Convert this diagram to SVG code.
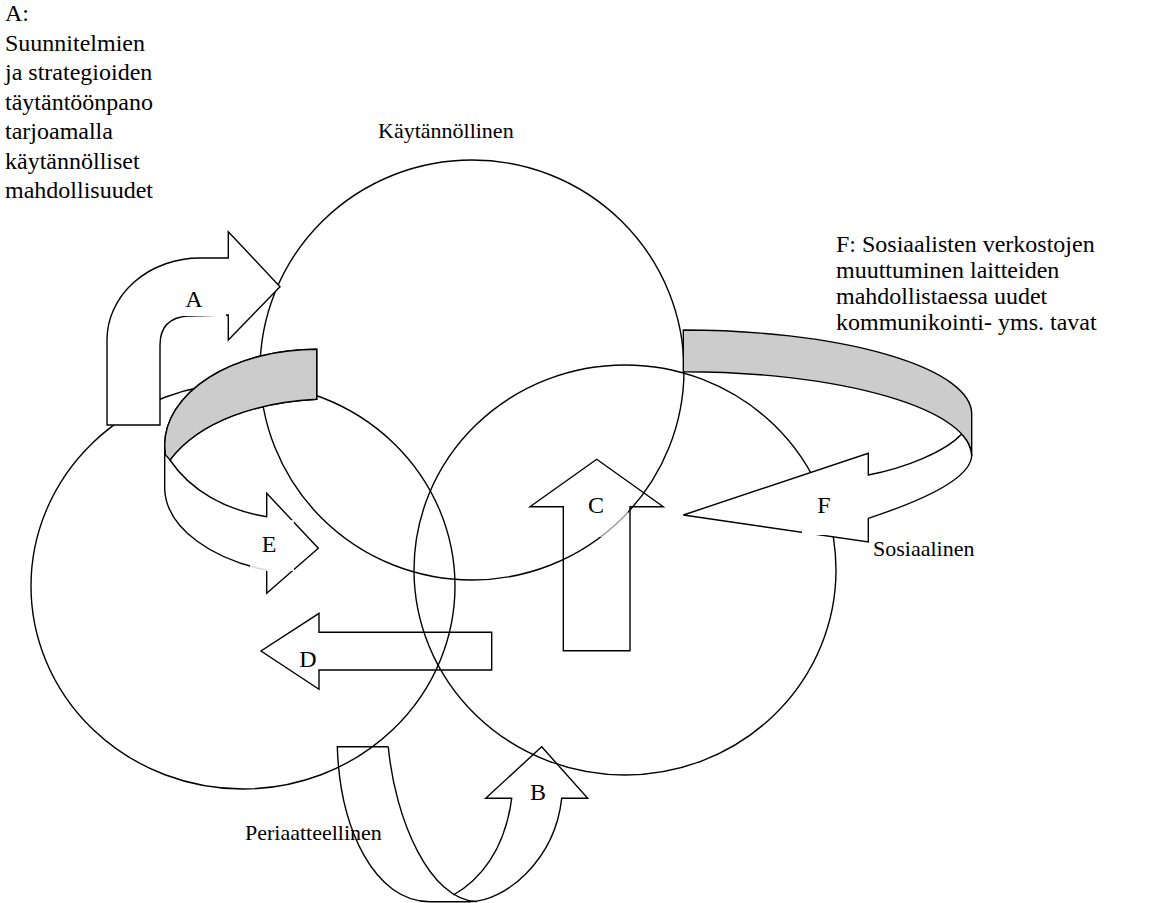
<svg xmlns="http://www.w3.org/2000/svg" width="1149" height="903" viewBox="0 0 1149 903">
<style>
.c{fill:none;stroke:#000;stroke-width:1.4}
.w{fill:#fff;stroke:#000;stroke-width:1.4;stroke-linejoin:miter}
.o{fill:none;stroke:#000;stroke-width:1.4}
.g{fill:#cccccc;stroke:#000;stroke-width:1.4}
.t{font-family:"Liberation Serif","Times New Roman",serif;font-size:22px;fill:#000}
.n{font-family:"Liberation Serif","Times New Roman",serif;font-size:24px;fill:#000}
.l{font-family:"Liberation Serif","Times New Roman",serif;font-size:24px;fill:#000}
.bx{fill:#fff;stroke:none}
</style>
<rect width="1149" height="903" fill="#fff"/>
<g id="node-kaytannollinen">
<ellipse class="c" cx="472" cy="370" rx="212" ry="210"/>
<text class="t" x="378" y="138">Käytännöllinen</text>
</g>
<g id="node-periaatteellinen">
<ellipse class="c" cx="243" cy="586" rx="212" ry="203"/>
<text class="t" x="245" y="840">Periaatteellinen</text>
</g>
<g id="node-sosiaalinen">
<ellipse class="c" cx="625" cy="570" rx="211" ry="205"/>
<text class="t" x="873" y="556">Sosiaalinen</text>
</g>
<g id="connectors">
<path id="arrow-A" class="w" d="M107,425 L107,340 A93,82 0 0 1 200,258 L228.3,258 L228.3,231.7 L280,286.7 L228.3,340 L228.3,315 L188,316 Q160,318 160,345 L160,425 Z"/>
<path id="arrow-E" class="w" d="M316.7,349.3 A152,96 0 0 0 164.7,445.3 L164.7,490 C167,530 215,560 266.7,570 L266.7,593.3 L318.3,548.3 L266.7,493.3 L266.7,516.7 C225,510 190,490 170,460 C200,420 260,402 316.7,399.3 Z"/>
<path id="band-E" class="g" d="M316.7,349.3 A152,96 0 0 0 164.7,445.3 L165.5,455 L170,460 C200,420 260,402 316.7,399.3 Z"/>
<path id="arrow-F" class="w" d="M971.7,456 C970,480 915,503 868.3,518.3 L868.3,542 L683.3,515 L868.3,453.3 L868.3,475 C905,468 945,452 961.7,434 A288.4,84.3 0 0 1 971.7,456 Z"/>
<path id="band-F" class="g" d="M683.3,330 A288.4,84 0 0 1 971.7,414 L971.7,456 A288.4,84.3 0 0 0 683.3,371.7 Z"/>
<path id="arrow-C" class="o" d="M563.3,650.7 L563.3,506.7 L530,506.7 L596.7,459.3 L663.3,506.7 L630,506.7 L630,650.7 Z"/>
<path id="arrow-D" class="o" d="M491.7,632.3 L319,632.3 L319,613.3 L261,651 L319,689.3 L319,670 L491.7,670 Z"/>
<path id="arrow-B" class="o" d="M388.3,746.7 L337.3,746.7 C340,830 375,901.7 430,901.7 L470,901.7 C505,901.7 555,860 561.7,798.3 L587.7,798.3 L541.7,746.7 L485.7,798.3 L511.7,798.3 C505,850 480,880 453.3,895"/>
<path class="o" d="M388.3,746.7 C395,820 430,900 476.7,901.7"/>
<rect class="bx" x="170" y="288" width="56" height="28"/>
<rect class="bx" x="250" y="520" width="44" height="51" fill-opacity="0.85"/>
<rect class="bx" x="584" y="493" width="44" height="44" fill-opacity="0.6"/>
<rect class="bx" x="802" y="492" width="44" height="43"/>
<text class="l" x="194" y="307" text-anchor="middle">A</text>
<text class="l" x="269" y="551.5" text-anchor="middle">E</text>
<text class="l" x="596" y="513" text-anchor="middle">C</text>
<text class="l" x="824" y="513" text-anchor="middle">F</text>
<text class="l" x="308" y="667" text-anchor="middle">D</text>
<text class="l" x="538" y="800" text-anchor="middle">B</text>
</g>
<g id="note-A">
<text class="n" x="5" y="21">A:</text>
<text class="n" x="5" y="50.5">Suunnitelmien</text>
<text class="n" x="5" y="80">ja strategioiden</text>
<text class="n" x="5" y="109.5">täytäntöönpano</text>
<text class="n" x="5" y="139">tarjoamalla</text>
<text class="n" x="5" y="168.5">käytännölliset</text>
<text class="n" x="5" y="198">mahdollisuudet</text>
</g>
<g id="note-F">
<text class="n" x="836" y="252">F: Sosiaalisten verkostojen</text>
<text class="n" x="836" y="278">muuttuminen laitteiden</text>
<text class="n" x="836" y="304">mahdollistaessa uudet</text>
<text class="n" x="836" y="330">kommunikointi- yms. tavat</text>
</g>
</svg>
